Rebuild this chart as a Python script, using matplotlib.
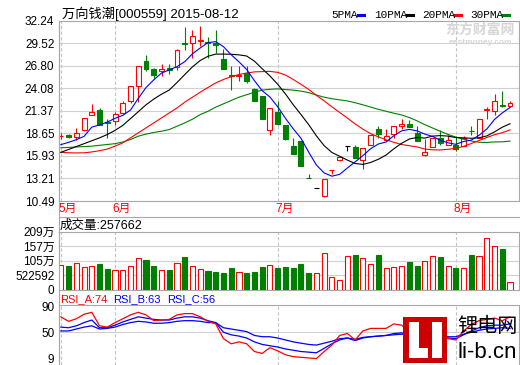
import matplotlib
matplotlib.use('Agg')
import matplotlib.pyplot as plt
from matplotlib.patches import Rectangle
from matplotlib.lines import Line2D
import numpy as np

plt.rcParams['font.family'] = ['Liberation Sans', 'Noto Sans CJK SC', 'DejaVu Sans']

W, H = 520, 365
RED = '#ff0000'
GREEN = '#008000'
BLUE = '#0000ff'
GRID = '#d0d0d0'
FRAME = '#a8a8a8'

title = '万向钱潮[000559] 2015-08-12'
months = ['5月', '6月', '7月', '8月']
month_pos = [0, 7, 28, 51]

opens = [18.32, 18.40, 18.17, 19.01, 20.81, 21.41, 19.95, 20.17, 21.09, 22.57,
         24.40, 27.39, 26.39, 26.10, 26.50, 26.59, 29.55, 29.51, 29.80, 29.60,
         29.51, 27.63, 25.70, 25.58, 25.90, 23.97, 23.18, 19.10, 21.20, 19.69,
         17.16, 17.68, 13.32, 12.00, 11.05, 14.25, 15.47, 17.16, 16.96, 15.48,
         17.20, 19.20, 17.88, 18.60, 19.49, 19.81, 18.68, 16.08, 17.00, 18.08,
         17.28, 17.28, 17.08, 18.98, 18.08, 21.41, 21.37, 22.00, 21.90]
highs = [18.68, 18.57, 19.29, 20.55, 22.21, 21.69, 20.41, 21.17, 22.58, 24.40,
         26.80, 28.11, 26.50, 26.99, 27.03, 28.75, 31.44, 31.12, 31.60, 30.30,
         31.12, 28.79, 26.70, 26.70, 26.70, 24.10, 23.18, 21.70, 22.57, 19.69,
         18.08, 17.68, 13.80, 12.00, 13.15, 14.27, 15.88, 17.16, 17.28, 16.90,
         18.49, 19.57, 19.17, 19.49, 20.41, 20.30, 19.57, 17.96, 18.08, 19.09,
         18.48, 18.28, 18.28, 19.57, 20.37, 21.81, 23.42, 23.70, 22.50]
lows = [17.96, 18.04, 17.88, 18.95, 20.80, 19.60, 18.08, 19.69, 21.00, 22.30,
        22.40, 26.10, 25.30, 25.50, 25.78, 26.22, 28.71, 27.71, 29.20, 27.70,
        28.30, 26.40, 23.90, 24.90, 24.70, 22.50, 20.37, 18.40, 19.70, 17.90,
        16.20, 14.68, 13.30, 12.00, 10.95, 13.80, 15.27, 16.48, 15.68, 14.35,
        17.20, 18.08, 17.88, 18.08, 19.20, 19.40, 17.68, 15.88, 17.00, 17.28,
        17.28, 16.48, 17.08, 18.48, 18.08, 20.41, 20.89, 21.80, 21.80]
closes = [18.36, 18.20, 18.69, 20.49, 21.21, 19.69, 19.90, 20.97, 22.30, 24.38,
          26.70, 26.43, 25.66, 26.38, 26.22, 28.71, 29.45, 30.40, 29.85, 29.50,
          29.27, 26.43, 25.50, 25.62, 24.90, 22.50, 20.37, 21.70, 19.77, 17.96,
          16.20, 14.68, 13.30, 12.00, 13.15, 14.27, 15.76, 17.16, 15.68, 16.88,
          18.49, 18.57, 18.36, 19.49, 19.77, 19.40, 17.68, 16.40, 18.08, 17.48,
          17.88, 16.76, 18.08, 18.96, 20.37, 21.61, 22.57, 21.97, 22.30]

ma5 = [17.28, 17.56, 17.88, 18.28, 19.39, 19.66, 20.00, 20.45, 20.81, 21.45,
       22.85, 24.16, 25.09, 25.91, 26.28, 26.68, 27.28, 28.23, 28.93, 29.58,
       29.69, 29.09, 28.11, 27.26, 26.34, 24.99, 23.78, 23.02, 21.85, 20.46,
       19.20, 18.06, 16.38, 14.83, 13.87, 13.48, 13.70, 14.47, 15.20, 15.95,
       16.79, 17.36, 17.60, 18.36, 18.94, 19.12, 18.94, 18.55, 18.27, 17.81,
       17.50, 17.32, 17.66, 17.83, 18.41, 19.16, 20.32, 21.10, 21.76]
ma10 = [16.35, 16.70, 17.05, 17.40, 17.75, 18.10, 18.50, 19.00, 19.60, 20.42,
        21.25, 22.08, 22.77, 23.36, 23.86, 24.77, 25.72, 26.66, 27.42, 27.93,
        28.19, 28.19, 28.17, 28.10, 27.96, 27.34, 26.43, 25.56, 24.56, 23.40,
        22.10, 20.92, 19.70, 18.34, 17.16, 16.34, 15.88, 15.42, 15.01, 14.90,
        15.13, 15.52, 16.03, 16.78, 17.44, 17.96, 18.15, 18.07, 18.31, 18.37,
        18.31, 18.13, 18.10, 18.05, 18.11, 18.33, 18.82, 19.38, 19.80]
ma20 = [16.35, 16.30, 16.28, 16.30, 16.40, 16.55, 16.75, 17.10, 17.50, 18.10,
        18.70, 19.30, 19.90, 20.50, 21.10, 21.70, 22.40, 23.00, 23.60, 24.17,
        24.72, 25.13, 25.47, 25.73, 25.91, 26.05, 26.08, 26.11, 25.99, 25.67,
        25.14, 24.55, 23.94, 23.22, 22.56, 21.84, 21.16, 20.49, 19.78, 19.15,
        18.61, 18.22, 17.86, 17.56, 17.30, 17.15, 17.01, 16.75, 16.66, 16.64,
        16.72, 16.83, 17.07, 17.42, 17.78, 18.14, 18.48, 18.72, 19.06]
ma30 = [16.90, 16.95, 17.00, 17.05, 17.10, 17.20, 17.30, 17.40, 17.60, 17.90,
        18.30, 18.55, 18.75, 18.90, 19.10, 19.50, 19.90, 20.35, 20.90, 21.30,
        21.80, 22.20, 22.60, 23.00, 23.30, 23.60, 23.85, 23.95, 24.00, 23.92,
        23.85, 23.73, 23.55, 23.26, 23.00, 22.81, 22.68, 22.55, 22.33, 22.08,
        21.81, 21.54, 21.30, 21.07, 20.86, 20.55, 20.15, 19.69, 19.29, 18.89,
        18.51, 18.19, 17.94, 17.72, 17.57, 17.54, 17.61, 17.62, 17.71]

volume = [883000, 847000, 955000, 811000, 847000, 930000, 739000, 703000, 703000, 847000,
          1124000, 1063000, 847000, 703000, 703000, 955000, 1171000, 847000, 739000, 667000,
          631000, 606000, 775000, 631000, 606000, 642000, 811000, 883000, 775000, 811000,
          775000, 919000, 595000, 584000, 1305000, 440000, 332000, 1197000, 1243000, 1124000,
          908000, 1243000, 764000, 800000, 836000, 991000, 847000, 1016000, 1197000, 1171000,
          836000, 775000, 764000, 1243000, 1197000, 1845000, 1557000, 1460000, 257662]

rsi_a = [74, 67, 71, 78, 81, 60, 58, 65, 71, 77, 81, 77, 68, 69, 70, 77, 79, 79, 74, 67,
         63, 40, 32, 35, 32, 20, 17, 26, 21, 15, 12, 11, 10, 9, 20, 30, 45, 48, 38, 52,
         56, 56, 56, 63, 61, 52, 41, 43, 46, 42, 40, 38, 52, 62, 68, 70, 72, 68, 74]
rsi_b = [58, 57, 60, 65, 69, 57, 57, 61, 66, 70, 74, 72, 70, 69, 69, 72, 74, 74, 72, 68,
         65, 50, 46, 44, 41, 35, 31, 29, 27, 24, 22, 20, 19, 18, 25, 32, 38, 41, 37, 41,
         43, 44, 45, 48, 49, 45, 43, 42, 42, 41, 41, 40, 46, 52, 57, 60, 61, 61, 63]
rsi_c = [52, 52, 55, 58, 60, 55, 56, 58, 62, 65, 67, 66, 64, 64, 65, 67, 68, 68, 67, 65,
         65, 57, 55, 53, 51, 45, 43, 43, 41, 38, 35, 33, 31, 30, 33, 36, 40, 41, 39, 42,
         43, 44, 45, 46, 47, 46, 45, 44, 44, 43, 43, 43, 47, 50, 53, 55, 56, 57, 56]

price_ticks = [10.49, 13.21, 15.93, 18.65, 21.37, 24.08, 26.80, 29.52, 32.24]
vol_ticks = [0, 522592, 1045184, 1567776, 2090368]
vol_labels = ['0', '522592', '105万', '157万', '209万']
rsi_ticks = [9, 50, 90]
ma_names = ['5PMA', '10PMA', '20PMA', '30PMA']
ma_colors = [BLUE, 'black', RED, GREEN]
ma_label_x = [331, 374, 422, 470]


def fx(x):
    return x / W


def fy(y):
    return 1 - y / H


fig = plt.figure(figsize=(W / 100, H / 100), dpi=100)
fig.patch.set_facecolor('white')

LEFT, RIGHT = 58.5, 519.0


def panel(top, bottom):
    ax = fig.add_axes([fx(LEFT), fy(bottom), fx(RIGHT) - fx(LEFT), (bottom - top) / H])
    ax.set_xlim(-0.30, 59.16)
    for s in ax.spines.values():
        s.set_color(FRAME)
        s.set_linewidth(0.8)
    ax.tick_params(axis='x', length=0, labelbottom=False)
    ax.tick_params(axis='y', length=0, labelsize=8.5, pad=3, colors='black')
    for m in month_pos:
        ax.axvline(m, color='#c4c4c4', lw=0.8, ls=(0, (3, 2)), zorder=0)
    return ax


idx = np.arange(len(closes))
o = np.array(opens)
c = np.array(closes)
hi = np.array(highs)
lo = np.array(lows)
up = c > o
down = c < o
candle_col = np.where(up, RED, np.where(down, GREEN, 'black'))
candle_face = np.where(up, 'white', np.where(down, GREEN, 'black'))

# ---- price panel
ax = panel(20.5, 201)
ax.set_ylim(10.49, 32.24)
ax.set_yticks(price_ticks, [f'{v:.2f}' for v in price_ticks])
ax.grid(axis='y', color=GRID, lw=0.8, zorder=0)
ax.set_axisbelow(True)

body_lo = np.minimum(o, c)
body_hi = np.maximum(o, c)
ax.vlines(idx, lo, body_lo, colors=candle_col, lw=0.8, zorder=3)
ax.vlines(idx, body_hi, hi, colors=candle_col, lw=0.8, zorder=3)
ax.bar(idx, body_hi - body_lo, bottom=body_lo, width=0.64,
       facecolor=candle_face, edgecolor=candle_col, lw=0.8, zorder=4)

for vals, col in zip([ma30, ma20, ma10, ma5], [GREEN, RED, 'black', BLUE]):
    ax.plot(idx, vals, color=col, lw=0.8, zorder=5)

for name, col, x in zip(ma_names, ma_colors, ma_label_x):
    fig.text(fx(x), fy(14.5), name, fontsize=8, family='Liberation Mono',
             va='center', ha='left', color='black')
    end = x + len(name) * 6.0
    fig.add_artist(Line2D([fx(end + 3), fx(end + 9)],
                          [fy(14.5), fy(14.5)], color=col, lw=2.2))

fig.text(fx(62), fy(14), title, fontsize=9.5, va='center', ha='left')

# watermark
fig.text(fx(480), fy(29.5), '东方财富网', fontsize=10, weight='bold', color='#d6d6d6',
         ha='center', va='center', family=['Noto Sans CJK SC'])
fig.text(fx(480), fy(42.5), 'eastmoney.com', fontsize=6, weight='bold', color='#d6d6d6',
         ha='center', va='center')

# month labels
for m, lab in zip(month_pos, months):
    ax.text(m - 0.3, -0.045, lab, transform=ax.get_xaxis_transform(), color=RED,
            fontsize=8.5, ha='left', va='center')

fig.add_artist(Line2D([fx(LEFT), fx(RIGHT)], [fy(217), fy(217)], color=FRAME, lw=0.8))
fig.add_artist(Line2D([fx(LEFT), fx(LEFT)], [fy(20.5), fy(365)], color=FRAME, lw=0.8))

# ---- volume panel
axv = panel(231.5, 289.5)
axv.set_ylim(0, 2090368)
axv.set_yticks(vol_ticks, vol_labels)
axv.grid(axis='y', color=GRID, lw=0.8, zorder=0)
axv.set_axisbelow(True)
vol_up = c >= o
axv.bar(idx, volume, width=0.66, facecolor=np.where(vol_up, 'white', GREEN),
        edgecolor=np.where(vol_up, RED, GREEN), lw=0.8, zorder=3)
fig.text(fx(60), fy(225.5), f'成交量:{volume[-1]}', fontsize=9, va='center', ha='left')

# ---- RSI panel
axr = panel(305, 365)
axr.set_ylim(-1.0, 92.4)
axr.set_yticks(rsi_ticks, [str(t) for t in rsi_ticks])
axr.axhline(50, color=GRID, lw=0.8, zorder=0)
axr.spines['bottom'].set_visible(False)
axr.plot(idx, rsi_c, color=BLUE, lw=0.9, zorder=3)
axr.plot(idx, rsi_b, color=BLUE, lw=0.9, zorder=3)
axr.plot(idx, rsi_a, color=RED, lw=0.9, zorder=4)
for lab, val, col, x in zip(['RSI_A', 'RSI_B', 'RSI_C'],
                            [rsi_a[-1], rsi_b[-1], rsi_c[-1]],
                            [RED, BLUE, BLUE], [60, 113, 167]):
    fig.text(fx(x), fy(299), f'{lab}:{val}', fontsize=8, color=col, va='center', ha='left')

# ---- li-b.cn logo
fig.patches.append(Rectangle((fx(403), fy(363)), fx(447) - fx(403), fy(317) - fy(363),
                             transform=fig.transFigure, facecolor='#cc0000', edgecolor='none', zorder=10))
for x0, y0, x1, y1 in [(409, 322, 419, 358), (409, 348, 428, 358), (432, 322, 442, 358)]:
    fig.patches.append(Rectangle((fx(x0), fy(y1)), fx(x1) - fx(x0), fy(y0) - fy(y1),
                                 transform=fig.transFigure, facecolor='white', edgecolor='none', zorder=11))
fig.text(fx(487), fy(327), '锂电网', fontsize=14.5, ha='center', va='center',
         family=['Noto Sans CJK SC'], zorder=12)
fig.text(fx(487), fy(352), 'li-b.cn', fontsize=16, ha='center', va='center', zorder=12)

fig.savefig('out.png', dpi=100, facecolor='white')
